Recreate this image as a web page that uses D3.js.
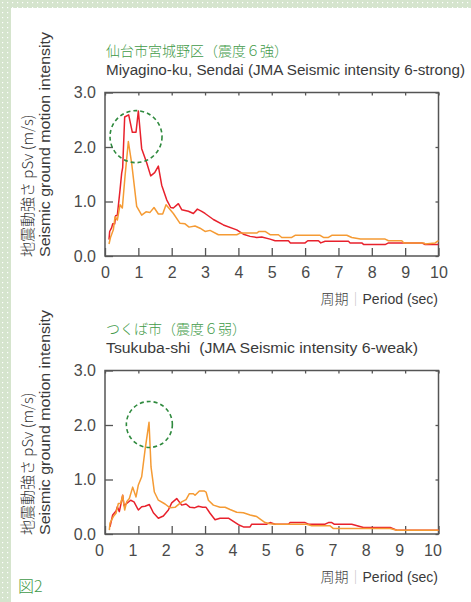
<!DOCTYPE html>
<html>
<head>
<meta charset="utf-8">
<script src="https://cdn.jsdelivr.net/npm/d3@7"></script>
<style>
  body { margin: 0; background: #fff; }
  svg { display: block; }
  .tick text { font-family: "Liberation Sans", Arial, sans-serif; font-size: 16px; fill: #4a4a4a; }
  .tick line { stroke: #555; stroke-width: 1.3; }
</style>
</head>
<body>
<div id="chart"></div>
<script>
// period (sec) vs pSv (m/s)
const periodTicks = [0, 1, 2, 3, 4, 5, 6, 7, 8, 9, 10];
const pSvTicks = [0, 1, 2, 3];

const sendaiRed = [[0.12,0.30],[0.14,0.45],[0.2,0.52],[0.23,0.59],[0.29,0.59],[0.32,0.74],[0.37,0.75],[0.45,1.21],[0.5,1.52],[0.53,1.62],[0.59,2.55],[0.71,2.59],[0.82,2.27],[0.93,2.27],[1.0,2.66],[1.1,1.97],[1.25,1.71],[1.37,1.47],[1.49,1.53],[1.6,1.65],[1.7,1.3],[1.85,1.03],[1.97,0.89],[2.05,0.88],[2.2,0.96],[2.3,0.85],[2.5,0.82],[2.65,0.78],[2.77,0.86],[2.9,0.82],[3.0,0.78],[3.25,0.67],[3.55,0.57],[3.95,0.48],[4.15,0.40],[4.35,0.36],[4.55,0.34],[4.7,0.35],[4.95,0.31],[5.1,0.28],[5.5,0.28],[5.56,0.24],[6.0,0.24],[6.08,0.28],[6.4,0.28],[6.47,0.24],[6.6,0.27],[7.3,0.27],[7.35,0.24],[7.7,0.24],[7.76,0.21],[8.4,0.21],[8.5,0.24],[9.5,0.24],[9.6,0.21],[10,0.21]];

const sendaiOrange = [[0.12,0.22],[0.17,0.35],[0.25,0.48],[0.30,0.72],[0.37,0.66],[0.45,0.94],[0.52,0.88],[0.6,1.46],[0.70,2.1],[0.80,1.70],[0.95,0.91],[1.1,0.75],[1.23,0.81],[1.35,0.80],[1.47,0.89],[1.6,0.77],[1.73,0.77],[1.83,0.94],[2.05,0.78],[2.25,0.60],[2.4,0.59],[2.52,0.53],[2.7,0.55],[2.85,0.51],[3.0,0.45],[3.15,0.47],[3.4,0.39],[3.95,0.39],[4.05,0.42],[4.55,0.42],[4.62,0.45],[4.8,0.45],[4.95,0.39],[5.2,0.39],[5.3,0.34],[5.6,0.34],[5.7,0.38],[6.45,0.38],[6.55,0.34],[6.7,0.34],[6.8,0.38],[7.25,0.38],[7.4,0.34],[7.66,0.31],[8.4,0.31],[8.5,0.28],[8.9,0.28],[8.96,0.24],[9.56,0.24],[9.6,0.22],[9.9,0.24],[10,0.28]];

const tsukubaRed = [[0.15,0.13],[0.23,0.35],[0.33,0.42],[0.37,0.50],[0.43,0.41],[0.48,0.56],[0.53,0.71],[0.57,0.52],[0.65,0.56],[0.77,0.62],[0.87,0.59],[1.0,0.44],[1.1,0.50],[1.2,0.51],[1.33,0.54],[1.45,0.39],[1.6,0.29],[1.75,0.33],[1.9,0.44],[2.0,0.57],[2.15,0.65],[2.3,0.53],[2.43,0.55],[2.55,0.49],[2.68,0.48],[2.8,0.51],[2.93,0.49],[3.03,0.49],[3.15,0.38],[3.3,0.26],[3.45,0.29],[3.7,0.29],[3.85,0.23],[4.0,0.17],[4.15,0.13],[4.35,0.13],[4.4,0.18],[4.85,0.18],[4.95,0.21],[5.1,0.18],[5.5,0.18],[5.55,0.21],[6.0,0.21],[6.1,0.18],[6.6,0.18],[6.7,0.21],[6.8,0.21],[6.87,0.18],[7.4,0.18],[7.75,0.12],[8.55,0.12],[8.75,0.07],[10,0.07]];

const tsukubaOrange = [[0.13,0.07],[0.15,0.2],[0.25,0.32],[0.33,0.38],[0.40,0.56],[0.47,0.56],[0.53,0.71],[0.59,0.44],[0.65,0.59],[0.73,0.65],[0.83,0.86],[0.93,0.68],[1.0,0.90],[1.1,1.05],[1.2,1.54],[1.32,2.05],[1.38,1.23],[1.48,0.77],[1.6,0.62],[1.8,0.55],[1.95,0.48],[2.1,0.49],[2.3,0.59],[2.43,0.63],[2.53,0.74],[2.65,0.74],[2.7,0.71],[2.83,0.79],[2.97,0.79],[3.03,0.77],[3.1,0.62],[3.25,0.53],[3.45,0.49],[3.6,0.49],[3.75,0.45],[3.95,0.40],[4.15,0.39],[4.35,0.35],[4.55,0.32],[4.8,0.21],[4.95,0.19],[5.15,0.18],[6.05,0.18],[6.2,0.15],[6.75,0.15],[6.85,0.10],[8.55,0.10],[8.75,0.07],[10,0.07]];

// highlighted peaks (period, pSv)
const sendaiPeak = [0.93, 2.19];
const tsukubaPeak = [1.33, 2.01];

const W = 471, H = 602;
const green = "#3f9a48";
const sans = '"Liberation Sans", Arial, sans-serif';
const cjk = '"Noto Sans CJK JP", sans-serif';

const svg = d3.select("#chart").append("svg")
    .attr("width", W)
    .attr("height", H);

// dotted green frame strip on the left and top
const defs = svg.append("defs");
const pat = defs.append("pattern")
    .attr("id", "dots")
    .attr("width", 5).attr("height", 5)
    .attr("patternUnits", "userSpaceOnUse");
pat.append("rect").attr("width", 5).attr("height", 5).attr("fill", "#d5e4cd");
pat.append("rect").attr("x", 2).attr("y", 2).attr("width", 1.2).attr("height", 1.2).attr("fill", "#fff");

svg.append("rect").attr("x", 0).attr("y", 0).attr("width", W).attr("height", 8).attr("fill", "url(#dots)");
svg.append("rect").attr("x", 0).attr("y", 0).attr("width", 11).attr("height", H).attr("fill", "url(#dots)");

function drawPanel(cfg) {
    const x = d3.scaleLinear().domain([0, 10]).range([105, 438.5]);
    const y = d3.scaleLinear().domain([0, 3]).range([cfg.bottom, cfg.bottom - 163.5]);
    const g = svg.append("g");

    // titles
    g.append("text")
        .attr("x", 106).attr("y", cfg.bottom - 200)
        .attr("font-family", cjk).attr("font-size", 14).attr("font-weight", 300)
        .attr("fill", green)
        .text(cfg.jpTitle);
    g.append("text")
        .attr("x", 106).attr("y", cfg.bottom - 181)
        .attr("font-family", sans).attr("font-size", 14)
        .attr("fill", "#3a3a3a")
        .attr("textLength", cfg.enWidth).attr("lengthAdjust", "spacingAndGlyphs")
        .attr("xml:space", "preserve")
        .text(cfg.enTitle);

    // ticks (inward) and labels
    g.append("g")
        .attr("transform", "translate(0," + cfg.bottom + ")")
        .call(d3.axisBottom(x).tickValues(periodTicks).tickSize(-8).tickPadding(11))
        .call(a => a.select(".domain").remove())
        .call(a => a.selectAll("text").attr("dx", cfg.labelShift));
    g.append("g")
        .attr("transform", "translate(0," + y(3) + ")")
        .call(d3.axisTop(x).tickValues(periodTicks).tickSize(-3).tickFormat(""))
        .call(a => a.select(".domain").remove());
    g.append("g")
        .attr("transform", "translate(105,0)")
        .call(d3.axisLeft(y).tickValues(pSvTicks).tickSize(-8).tickPadding(9).tickFormat(d3.format(".1f")))
        .call(a => a.select(".domain").remove());
    g.append("g")
        .attr("transform", "translate(438.5,0)")
        .call(d3.axisRight(y).tickValues(pSvTicks).tickSize(-3).tickFormat(""))
        .call(a => a.select(".domain").remove());

    // frame
    g.append("rect")
        .attr("x", x(0)).attr("y", y(3))
        .attr("width", x(10) - x(0)).attr("height", y(0) - y(3))
        .attr("fill", "none").attr("stroke", "#555").attr("stroke-width", 1.5);

    const line = d3.line()
        .x(d => x(d[0]))
        .y(d => y(d[1]));

    g.append("path").datum(cfg.red)
        .attr("d", line)
        .attr("fill", "none").attr("stroke", "#e8212c").attr("stroke-width", 1.5)
        .attr("stroke-linejoin", "round");
    g.append("path").datum(cfg.orange)
        .attr("d", line)
        .attr("fill", "none").attr("stroke", "#f59b34").attr("stroke-width", 1.5)
        .attr("stroke-linejoin", "round");

    // dashed ring round the peak
    g.append("circle")
        .attr("cx", x(cfg.peak[0])).attr("cy", y(cfg.peak[1]))
        .attr("r", cfg.ring)
        .attr("fill", "none").attr("stroke", "#2f8a3e")
        .attr("stroke-width", 1.6).attr("stroke-dasharray", "4,3");

    // y label, two lines reading upward
    const yl = g.append("g")
        .attr("transform", "translate(0," + (cfg.bottom + 1) + ") rotate(-90)");
    yl.append("text")
        .attr("x", 0).attr("y", 33)
        .attr("font-family", cjk).attr("font-size", 15).attr("font-weight", 300)
        .attr("fill", "#333")
        .text("地震動強さ pSv (m/s)");
    yl.append("text")
        .attr("x", 0).attr("y", 50)
        .attr("font-family", sans).attr("font-size", 15)
        .attr("fill", "#3a3a3a")
        .attr("textLength", 225).attr("lengthAdjust", "spacingAndGlyphs")
        .text("Seismic ground motion intensity");

    // x label
    const xl = g.append("text")
        .attr("x", 438).attr("y", cfg.bottom + 48)
        .attr("text-anchor", "end")
        .attr("font-size", 14)
        .attr("fill", "#3a3a3a");
    xl.append("tspan").attr("font-family", cjk).attr("font-weight", 300).text("周期");
    xl.append("tspan").attr("font-family", cjk).attr("font-weight", 300).attr("fill", "#bbb").text("｜");
    xl.append("tspan").attr("font-family", sans).text("Period (sec)");
}

drawPanel({
    bottom: 256,
    jpTitle: "仙台市宮城野区（震度６強）",
    enTitle: "Miyagino-ku, Sendai (JMA Seismic intensity 6-strong)",
    enWidth: 359,
    red: sendaiRed,
    orange: sendaiOrange,
    peak: sendaiPeak,
    ring: 26,
    labelShift: 0
});

drawPanel({
    bottom: 534,
    jpTitle: "つくば市（震度６弱）",
    enTitle: "Tsukuba-shi  (JMA Seismic intensity 6-weak)",
    enWidth: 312,
    red: tsukubaRed,
    orange: tsukubaOrange,
    peak: tsukubaPeak,
    ring: 23,
    labelShift: -6
});

svg.append("text")
    .attr("x", 18).attr("y", 592)
    .attr("font-family", cjk).attr("font-size", 16).attr("font-weight", 300)
    .attr("fill", green)
    .text("図2");
</script>
</body>
</html>
